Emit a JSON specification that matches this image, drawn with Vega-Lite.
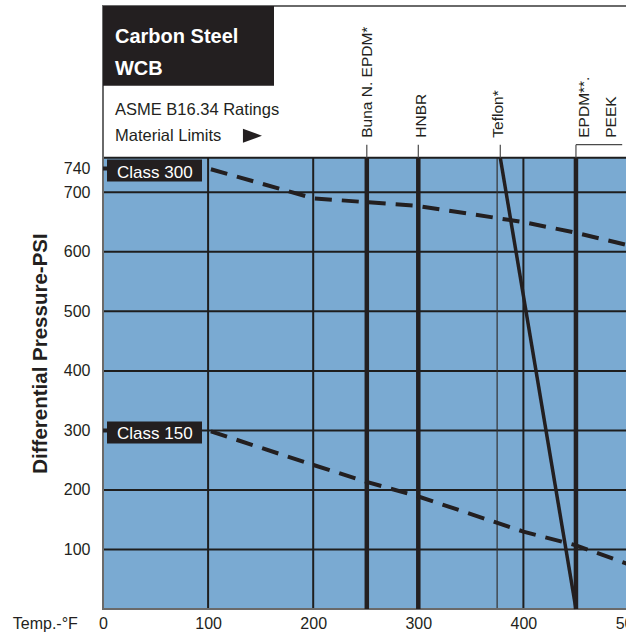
{
  "$schema": "https://vega.github.io/schema/vega-lite/v6.json",
  "width": 525.5,
  "height": 603,
  "autosize": {"type": "none"},
  "padding": {"left": 103, "top": 6, "right": -2.5, "bottom": 26},
  "background": "white",
  "config": {
    "font": "Liberation Sans",
    "view": {"stroke": "#6a6a6a", "strokeWidth": 2},
    "axis": {
      "ticks": false, "domain": false, "grid": false,
      "labelOverlap": false, "labelBound": false, "labelFlush": false,
      "labelFontSize": 16, "labelColor": "#231f20", "titleColor": "#231f20"
    },
    "axisX": {"labelPadding": 19, "labelBaseline": "alphabetic"},
    "axisY": {"labelPadding": 13}
  },
  "datasets": {
    "ratings": [
      {"series": "Class 300", "t": 0, "p": 740},
      {"series": "Class 300", "t": 100, "p": 740},
      {"series": "Class 300", "t": 200, "p": 690},
      {"series": "Class 300", "t": 300, "p": 677},
      {"series": "Class 300", "t": 400, "p": 650},
      {"series": "Class 300", "t": 450, "p": 632},
      {"series": "Class 300", "t": 500, "p": 611},
      {"series": "Class 150", "t": 0, "p": 300},
      {"series": "Class 150", "t": 100, "p": 300},
      {"series": "Class 150", "t": 200, "p": 242},
      {"series": "Class 150", "t": 250, "p": 214},
      {"series": "Class 150", "t": 300, "p": 189},
      {"series": "Class 150", "t": 400, "p": 130},
      {"series": "Class 150", "t": 450, "p": 107},
      {"series": "Class 150", "t": 500, "p": 75}
    ],
    "classes": [
      {"series": "Class 300", "p": 740},
      {"series": "Class 150", "p": 300}
    ],
    "limits": [
      {"material": "Buna N. EPDM*", "t": 251},
      {"material": "HNBR", "t": 300},
      {"material": "EPDM** / PEEK", "t": 450}
    ],
    "teflon": [
      {"material": "Teflon*", "t": 378, "p": 758},
      {"material": "Teflon*", "t": 450, "p": 0}
    ],
    "leaders": [
      {"t": 251}, {"t": 300}, {"t": 378}, {"t": 450}
    ],
    "labels": [
      {"label": "Buna N. EPDM*", "t": 256.4},
      {"label": "HNBR", "t": 307.8},
      {"label": "Teflon*", "t": 381},
      {"label": "EPDM**.", "t": 462},
      {"label": "PEEK", "t": 488.5}
    ],
    "hgrid": [
      {"p": 100}, {"p": 200}, {"p": 300}, {"p": 400}, {"p": 500}, {"p": 600}, {"p": 700}
    ],
    "vgrid": [
      {"t": 100}, {"t": 200}, {"t": 300}, {"t": 400}, {"t": 500}
    ],
    "title1": [
      {"label": "Carbon Steel", "p": 950.4},
      {"label": "WCB", "p": 897.5}
    ],
    "title2": [
      {"label": "ASME B16.34 Ratings", "p": 830.3},
      {"label": "Material Limits", "p": 785.6}
    ]
  },
  "layer": [
    {
      "data": {"values": [{}]},
      "mark": {"type": "rect", "fill": "#7aaad2"},
      "encoding": {
        "x": {
          "datum": 0, "type": "quantitative",
          "scale": {"domain": [0, 500], "nice": false, "zero": false},
          "axis": {
            "values": [0, 100, 200, 300, 400, 500],
            "title": "Temp.-°F", "titleX": -90.7, "titleY": 19,
            "titleAlign": "left", "titleAnchor": "start", "titleBaseline": "alphabetic",
            "titleFontSize": 16, "titleFontWeight": "normal"
          }
        },
        "x2": {"datum": 500},
        "y": {
          "datum": 0, "type": "quantitative",
          "scale": {"domain": [0, 1013], "nice": false, "zero": false},
          "axis": {
            "values": [100, 200, 300, 400, 500, 600, 700, 740],
            "title": "Differential Pressure-PSI", "titleX": -56.3, "titleY": 347,
            "titleAngle": 270, "titleAlign": "center", "titleBaseline": "alphabetic",
            "titleFontSize": 20.5, "titleFontWeight": "bold"
          }
        },
        "y2": {"datum": 758}
      }
    },
    {
      "data": {"name": "hgrid"},
      "mark": {"type": "rule", "color": "#1e1e1e", "strokeWidth": 2},
      "encoding": {
        "y": {"field": "p", "type": "quantitative", "scale": {"domain": [0, 1013], "nice": false, "zero": false}}
      }
    },
    {
      "data": {"name": "vgrid"},
      "mark": {"type": "rule", "color": "#1e1e1e", "strokeWidth": 2},
      "encoding": {
        "x": {"field": "t", "type": "quantitative", "scale": {"domain": [0, 500], "nice": false, "zero": false}},
        "y": {"datum": 0, "type": "quantitative", "scale": {"domain": [0, 1013], "nice": false, "zero": false}},
        "y2": {"datum": 758}
      }
    },
    {
      "data": {"values": [{"t": 375}]},
      "mark": {"type": "rule", "color": "#333333", "strokeWidth": 1.2},
      "encoding": {
        "x": {"field": "t", "type": "quantitative", "scale": {"domain": [0, 500], "nice": false, "zero": false}},
        "y": {"datum": 0, "type": "quantitative", "scale": {"domain": [0, 1013], "nice": false, "zero": false}},
        "y2": {"datum": 758}
      }
    },
    {
      "data": {"values": [{}]},
      "mark": {"type": "rule", "color": "#1e1e1e", "strokeWidth": 2},
      "encoding": {
        "y": {"datum": 758, "type": "quantitative", "scale": {"domain": [0, 1013], "nice": false, "zero": false}}
      }
    },
    {
      "data": {"values": [{}]},
      "mark": {"type": "rule", "color": "#6a6a6a", "strokeWidth": 2},
      "encoding": {
        "x": {"datum": 0, "type": "quantitative", "scale": {"domain": [0, 500], "nice": false, "zero": false}}
      }
    },
    {
      "data": {"values": [{}]},
      "mark": {"type": "rule", "color": "#6a6a6a", "strokeWidth": 2},
      "encoding": {
        "y": {"datum": 0, "type": "quantitative", "scale": {"domain": [0, 1013], "nice": false, "zero": false}}
      }
    },
    {
      "data": {"name": "limits"},
      "mark": {"type": "rule", "color": "#231f20", "strokeWidth": 4.5},
      "encoding": {
        "x": {"field": "t", "type": "quantitative", "scale": {"domain": [0, 500], "nice": false, "zero": false}},
        "y": {"datum": 0, "type": "quantitative", "scale": {"domain": [0, 1013], "nice": false, "zero": false}},
        "y2": {"datum": 758}
      }
    },
    {
      "data": {"name": "teflon"},
      "mark": {"type": "line", "color": "#231f20", "strokeWidth": 3.5},
      "encoding": {
        "x": {"field": "t", "type": "quantitative", "scale": {"domain": [0, 500], "nice": false, "zero": false}},
        "y": {"field": "p", "type": "quantitative", "scale": {"domain": [0, 1013], "nice": false, "zero": false}}
      }
    },
    {
      "data": {"name": "ratings"},
      "mark": {"type": "line", "color": "#231f20", "strokeWidth": 4, "strokeDash": [17, 10]},
      "encoding": {
        "x": {"field": "t", "type": "quantitative", "scale": {"domain": [0, 500], "nice": false, "zero": false}},
        "y": {"field": "p", "type": "quantitative", "scale": {"domain": [0, 1013], "nice": false, "zero": false}},
        "detail": {"field": "series", "type": "nominal"}
      }
    },
    {
      "data": {"name": "classes"},
      "mark": {"type": "rect", "fill": "#231f20", "xOffset": 4, "x2Offset": 99, "yOffset": 13, "y2Offset": -9},
      "encoding": {
        "x": {"datum": 0, "type": "quantitative", "scale": {"domain": [0, 500], "nice": false, "zero": false}},
        "x2": {"datum": 0},
        "y": {"field": "p", "type": "quantitative", "scale": {"domain": [0, 1013], "nice": false, "zero": false}},
        "y2": {"field": "p"}
      }
    },
    {
      "data": {"name": "classes"},
      "mark": {"type": "text", "color": "white", "fontSize": 17, "align": "left", "baseline": "alphabetic", "dx": 14, "dy": 9},
      "encoding": {
        "x": {"datum": 0, "type": "quantitative", "scale": {"domain": [0, 500], "nice": false, "zero": false}},
        "y": {"field": "p", "type": "quantitative", "scale": {"domain": [0, 1013], "nice": false, "zero": false}},
        "text": {"field": "series"}
      }
    },
    {
      "data": {"name": "leaders"},
      "mark": {"type": "rule", "color": "#4a4a4a", "strokeWidth": 1.2},
      "encoding": {
        "x": {"field": "t", "type": "quantitative", "scale": {"domain": [0, 500], "nice": false, "zero": false}},
        "y": {"datum": 758, "type": "quantitative", "scale": {"domain": [0, 1013], "nice": false, "zero": false}},
        "y2": {"datum": 780}
      }
    },
    {
      "data": {"values": [{}]},
      "mark": {"type": "rule", "color": "#4a4a4a", "strokeWidth": 1.2},
      "encoding": {
        "x": {"datum": 450, "type": "quantitative", "scale": {"domain": [0, 500], "nice": false, "zero": false}},
        "x2": {"datum": 494},
        "y": {"datum": 780, "type": "quantitative", "scale": {"domain": [0, 1013], "nice": false, "zero": false}}
      }
    },
    {
      "data": {"name": "labels"},
      "mark": {"type": "text", "color": "#231f20", "fontSize": 15.5, "angle": 270, "align": "left", "baseline": "alphabetic"},
      "encoding": {
        "x": {"field": "t", "type": "quantitative", "scale": {"domain": [0, 500], "nice": false, "zero": false}},
        "y": {"datum": 791.7, "type": "quantitative", "scale": {"domain": [0, 1013], "nice": false, "zero": false}},
        "text": {"field": "label"}
      }
    },
    {
      "data": {"values": [{}]},
      "mark": {"type": "rect", "fill": "#231f20"},
      "encoding": {
        "x": {"datum": 0, "type": "quantitative", "scale": {"domain": [0, 500], "nice": false, "zero": false}},
        "x2": {"datum": 162.7},
        "y": {"datum": 879, "type": "quantitative", "scale": {"domain": [0, 1013], "nice": false, "zero": false}},
        "y2": {"datum": 1013}
      }
    },
    {
      "data": {"name": "title1"},
      "mark": {"type": "text", "color": "white", "fontSize": 20, "fontWeight": "bold", "align": "left", "baseline": "alphabetic"},
      "encoding": {
        "x": {"datum": 11.4, "type": "quantitative", "scale": {"domain": [0, 500], "nice": false, "zero": false}},
        "y": {"field": "p", "type": "quantitative", "scale": {"domain": [0, 1013], "nice": false, "zero": false}},
        "text": {"field": "label"}
      }
    },
    {
      "data": {"name": "title2"},
      "mark": {"type": "text", "color": "#231f20", "fontSize": 16.5, "align": "left", "baseline": "alphabetic"},
      "encoding": {
        "x": {"datum": 11.4, "type": "quantitative", "scale": {"domain": [0, 500], "nice": false, "zero": false}},
        "y": {"field": "p", "type": "quantitative", "scale": {"domain": [0, 1013], "nice": false, "zero": false}},
        "text": {"field": "label"}
      }
    },
    {
      "data": {"values": [{}]},
      "mark": {"type": "point", "shape": "M-1,-0.74L1,0L-1,0.74Z", "size": 361, "filled": true, "color": "#231f20", "opacity": 1},
      "encoding": {
        "x": {"datum": 142.2, "type": "quantitative", "scale": {"domain": [0, 500], "nice": false, "zero": false}},
        "y": {"datum": 795, "type": "quantitative", "scale": {"domain": [0, 1013], "nice": false, "zero": false}}
      }
    }
  ]
}
